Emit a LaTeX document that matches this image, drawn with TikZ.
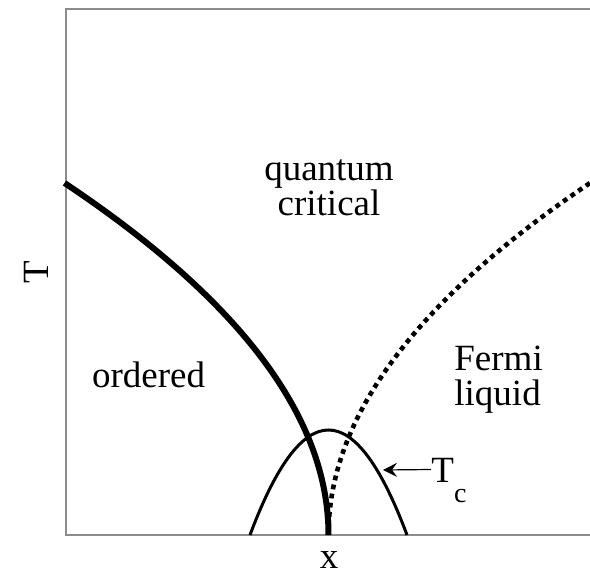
\documentclass[tikz,border=0pt]{standalone}
\usepackage{fontspec}
\setmainfont{Liberation Serif}
\usetikzlibrary{arrows.meta}

\begin{document}
\begin{tikzpicture}[
	x=0.5pt, y=-0.5pt,
	font=\fontsize{18.5}{17.5}\selectfont,
	frameline/.style={draw=black!45, line width=0.6pt},
	phaseline/.style={line width=3pt},
	crossover/.style={line width=2.3pt, dash pattern=on 2.4pt off 2.2pt},
	dome/.style={line width=1.5pt},
	region/.style={inner sep=0pt, anchor=base},
	tcarrow/.style={-{Stealth[length=7pt, width=7pt, inset=2.5pt]}, line width=0.6pt}
]
\useasboundingbox (0,0) rectangle (590,573);

% axes, right side left open
\draw[frameline] (590,9) -- (66,9) -- (66,535) -- (590,535);

% phase boundary and crossover line
\draw[phaseline] (64.5,183) .. controls (240.5,300.3) and (328.5,417.7) .. (328.5,535);
\draw[crossover] (328.5,535) .. controls (328.5,417.7) and (415.7,300.3) .. (590,183);

% dome
\draw[dome] (250,535) .. controls (302.3,395) and (354.7,395) .. (407,535);

\node[region, align=center] (qc) at (329,215) {quantum\\critical};
\node[region] (ord) at (148.5,387) {ordered};
\node[region, anchor=base west, align=left] (fl) at (454,405) {Fermi\\liquid};

\node[region, rotate=90] (taxis) at (48,272) {T};
\node[region] (xaxis) at (329,568) {x};

\node[inner sep=0pt, anchor=base west] (tclab) at (431,482) {T\raisebox{-10pt}{\fontsize{14}{14}\selectfont c}};
\coordinate (tctip) at (383,470);
\draw[tcarrow] ([yshift=6.25pt]tclab.base west) -- (tctip);

\end{tikzpicture}
\end{document}
